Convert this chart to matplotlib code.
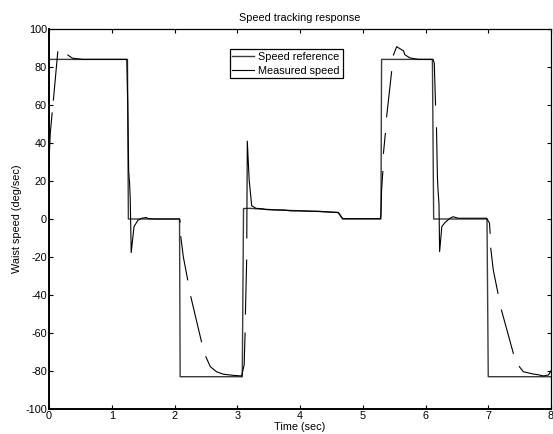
import matplotlib
matplotlib.use("Agg")
import matplotlib.pyplot as plt
import numpy as np

nan = np.nan

# commanded waist speed (deg/sec)
ref_t = [0.00, 1.25, 1.265, 2.08, 2.09, 3.08, 3.10, 3.20, 3.60, 4.00, 4.30, 4.61, 4.68,
         5.29, 5.30, 6.11, 6.13, 6.98, 7.00, 8.00]
ref_v = [84.0, 84.0, 0.0, 0.0, -83.0, -83.0, 5.5, 5.6, 4.8, 4.3, 4.0, 3.4, 0.0,
         0.0, 84.0, 84.0, 0.0, 0.0, -83.0, -83.0]

# measured waist speed, NaN marks breaks in the logged trace
meas_t = [0.00, 0.02, 0.05, nan,
          0.07, 0.14, nan,
          0.30, 0.37, 0.43, 0.54, 0.80, 1.00, 1.24, 1.255, 1.27, 1.285, 1.295, 1.31,
          1.355, 1.42, 1.48, 1.55, 1.58, 1.70, 2.08, 2.09, nan,
          2.10, 2.14, 2.21, nan,
          2.26, 2.43, nan,
          2.50, 2.57, 2.67, 2.78, 2.94, 3.07, 3.11, 3.125, nan,
          3.13, 3.15, nan,
          3.152, 3.16, 3.19, 3.23, 3.30, 3.40, 3.45, 3.60, 3.75, 3.85, 4.00, 4.15,
          4.30, 4.45, 4.61, 4.68, 5.28, 5.29, 5.30, 5.32, nan,
          5.33, 5.36, nan,
          5.38, 5.46, nan,
          5.49, 5.54, 5.65, 5.67, 5.75, 5.89, 6.12, 6.14, 6.16, nan,
          6.175, 6.19, 6.20, 6.215, 6.225, 6.26, 6.31, 6.39, 6.44, 6.52, 6.975,
          6.985, 7.02, 7.03, nan,
          7.04, 7.08, 7.155, nan,
          7.21, 7.40, nan,
          7.495, 7.56, 7.64, 7.72, 7.80, 7.88, 7.96, 8.00]
meas_v = [30.0, 45.0, 55.8, nan,
          62.6, 88.0, nan,
          86.3, 84.7, 84.4, 84.0, 84.0, 84.0, 84.0, 60.0, 25.0, 18.5, 10.0, -17.7,
          -4.0, -0.5, 0.4, 0.8, 0.2, 0.0, 0.0, -1.5, nan,
          -9.3, -19.8, -32.0, nan,
          -40.9, -64.6, nan,
          -72.5, -77.7, -80.4, -81.7, -82.3, -82.6, -76.8, -60.0, nan,
          -50.0, -21.6, nan,
          -10.0, 41.0, 20.5, 7.0, 5.6, 5.4, 5.0, 4.8, 4.7, 4.3, 4.3, 4.1,
          4.0, 3.7, 3.4, 0.2, 0.2, 3.0, 15.0, 25.0, nan,
          34.6, 45.0, nan,
          53.8, 77.5, nan,
          86.3, 90.7, 88.5, 86.5, 84.8, 84.0, 84.0, 82.0, 60.0, nan,
          48.0, 22.0, 15.0, 8.0, -17.2, -4.0, -1.9, 0.4, 1.2, 0.4, 0.4,
          -0.2, -2.2, -7.5, nan,
          -15.4, -26.8, -39.1, nan,
          -47.9, -70.7, nan,
          -77.7, -80.4, -81.0, -81.6, -82.0, -82.6, -82.1, -80.0]

x_ticks = [0, 1, 2, 3, 4, 5, 6, 7, 8]
y_ticks = [-100, -80, -60, -40, -20, 0, 20, 40, 60, 80, 100]

plt.rcParams['font.family'] = ['Liberation Sans', 'DejaVu Sans']
plt.rcParams['font.size'] = 7.8
plt.rcParams['axes.unicode_minus'] = False

fig = plt.figure(figsize=(5.53, 4.34), dpi=100)
ax = fig.add_axes([49 / 553, 25 / 434, 502 / 553, 380 / 434])

ax.plot(ref_t, ref_v, color="#3c3c3c", linewidth=1.0, label="Speed reference")
ax.plot(meas_t, meas_v, color="black", linewidth=0.8, label="Measured speed")

ax.set_xlim(0, 8)
ax.set_ylim(-100, 100)
ax.set_xticks(x_ticks)
ax.set_yticks(y_ticks)
ax.tick_params(direction="in", length=3, width=0.8, top=True, right=True,
               labelsize=7.8, pad=1.5)
for side in ["left", "bottom"]:
    ax.spines[side].set_linewidth(1.4)
for side in ["top", "right"]:
    ax.spines[side].set_linewidth(0.9)

ax.set_title("Speed tracking response", fontsize=7.8, pad=6)
ax.set_xlabel("Time (sec)", fontsize=7.8, labelpad=1)
ax.set_ylabel("Waist speed (deg/sec)", fontsize=7.8, labelpad=2)

leg = ax.legend(loc="upper left", bbox_to_anchor=(0.36, 0.947), borderaxespad=0,
                fancybox=False, framealpha=1, edgecolor="black", fontsize=7.8,
                handlelength=2.0, handletextpad=0.4, borderpad=0.25,
                labelspacing=0.35)
leg.get_frame().set_linewidth(0.9)

plt.savefig("out.png", dpi=100)
